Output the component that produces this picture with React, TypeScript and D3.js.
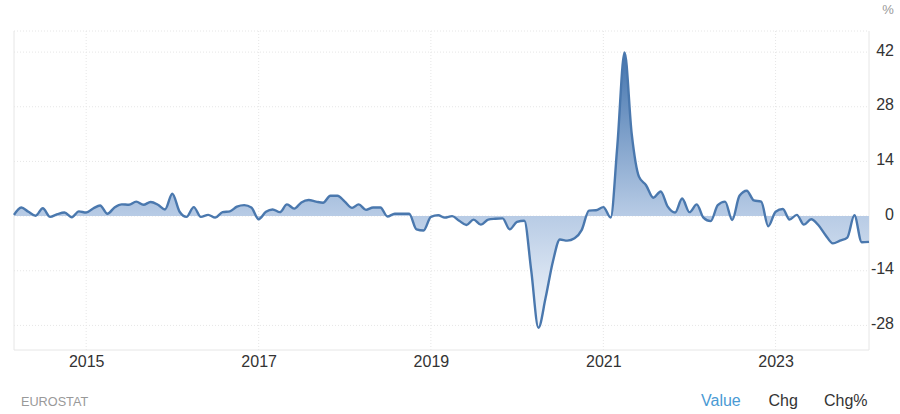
import React from 'react';
import * as d3 from 'd3';

// monthly values, Mar 2014 to Feb 2024
const values2014 = [0.3, 2.2, 1.1, 0.1, 2.0, -0.2, 0.5, 0.9, -0.3, 1.2];
const values2015 = [0.9, 2.0, 2.7, 0.6, 2.2, 3.0, 2.9, 3.7, 2.9, 3.6, 2.9, 1.7];
const values2016 = [5.7, 1.1, -0.2, 2.3, -0.2, 0.3, -0.4, 1.0, 1.2, 2.4, 2.8, 2.2];
const values2017 = [-0.8, 1.1, 1.7, 1.0, 3.0, 1.9, 3.5, 4.1, 3.7, 3.4, 5.2, 5.2];
const values2018 = [3.7, 2.1, 3.0, 1.6, 2.2, 2.2, -0.1, 0.6, 0.6, 0.6, -3.4, -3.7];
const values2019 = [-0.2, 0.2, -0.4, 0.0, -1.2, -2.3, -0.9, -2.2, -0.9, -0.7, -0.6, -3.4];
const values2020 = [-1.5, -1.2, -13.8, -28.6, -21, -11.7, -6.0, -6.3, -5.7, -3.6, 1.4, 1.5];
const values2021 = [2.3, -0.4, 17.8, 41.9, 21.2, 10.1, 7.9, 4.7, 6.3, 2.4, 0.9, 4.5];
const values2022 = [1.0, 3.0, -0.4, -1.3, 2.8, 3.7, -1.0, 5.2, 6.5, 4.0, 3.7, -2.6];
const values2023 = [1.1, 1.8, -0.9, 0.3, -2.2, -0.8, -2.3, -4.9, -7.0, -6.3, -5.5, 0.2];
const values2024 = [-6.7, -6.6];

const values = [
  ...values2014, ...values2015, ...values2016, ...values2017, ...values2018, ...values2019,
  ...values2020, ...values2021, ...values2022, ...values2023, ...values2024,
];
const months = d3.timeMonth.range(new Date(2014, 2, 1), new Date(2024, 2, 1));

const yTicks = [42, 28, 14, 0, -14, -28];
const xTickYears = [2015, 2017, 2019, 2021, 2023];
const rangeButtons = ['Value', 'Chg', 'Chg%'];

const FONT = '"Liberation Sans", Arial, sans-serif';
const GRID = '#e6e6e6';

const left = 14;
const right = 869;
const top = 31;
const bottom = 350;

export default function App() {
  const x = d3.scaleTime().domain([months[0], months[months.length - 1]]).range([left, right]);
  const y = d3.scaleLinear().domain([-34.3, 47.4]).range([bottom, top]);

  const points = months.map((d, i) => ({ date: d, value: values[i] }));
  const line = d3.line<typeof points[number]>().x(d => x(d.date)).y(d => y(d.value)).curve(d3.curveMonotoneX);
  const area = d3.area<typeof points[number]>().x(d => x(d.date)).y0(y(0)).y1(d => y(d.value)).curve(d3.curveMonotoneX);

  return (
    <svg width={900} height={414} style={{ position: 'absolute', left: 0, top: 0, background: '#fff' }} fontFamily={FONT}>
      <defs>
        <linearGradient id="fill" gradientUnits="userSpaceOnUse" x1={0} x2={0} y1={y(42)} y2={y(-28.6)}>
          <stop offset="0" stopColor="#4273ad" />
          <stop offset="0.59" stopColor="#b7cbe5" />
          <stop offset="1" stopColor="#f4f7fb" />
        </linearGradient>
      </defs>

      {/* grid */}
      <line x1={left} x2={right} y1={top} y2={top} stroke={GRID} strokeDasharray="1 2" />
      {yTicks.map(t => (
        <line key={t} x1={left} x2={right} y1={y(t)} y2={y(t)} stroke={GRID} strokeDasharray="1 2" />
      ))}
      {xTickYears.map(yr => (
        <line key={yr} x1={x(new Date(yr, 0, 1))} x2={x(new Date(yr, 0, 1))} y1={top} y2={bottom} stroke={GRID} strokeDasharray="1 2" />
      ))}
      <line x1={left} x2={left} y1={top} y2={bottom} stroke={GRID} />
      <line x1={right} x2={right} y1={top} y2={bottom} stroke={GRID} />
      <line x1={left} x2={right} y1={bottom} y2={bottom} stroke={GRID} />

      <path d={area(points) ?? ''} fill="url(#fill)" />
      <path d={line(points) ?? ''} fill="none" stroke="#4a78ae" strokeWidth={2.4} strokeLinejoin="round" />

      {/* axes */}
      {yTicks.map(t => (
        <text key={t} x={894} y={y(t) + 3.5} textAnchor="end" fontSize={16} fill="#333">{t}</text>
      ))}
      {xTickYears.map(yr => (
        <text key={yr} x={x(new Date(yr, 0, 1)) + 0.5} y={366.5} textAnchor="middle" fontSize={16} fill="#333">{yr}</text>
      ))}
      <text x={888} y={14} textAnchor="middle" fontSize={13} fill="#999">%</text>

      <text x={21} y={406} fontSize={12.7} fill="#999">EUROSTAT</text>
      <text x={701} y={406} fontSize={16} fill="#4a9ad4">{rangeButtons[0]}</text>
      <text x={768.5} y={406} fontSize={16} fill="#333">{rangeButtons[1]}</text>
      <text x={824} y={406} fontSize={16} fill="#333">{rangeButtons[2]}</text>
    </svg>
  );
}
